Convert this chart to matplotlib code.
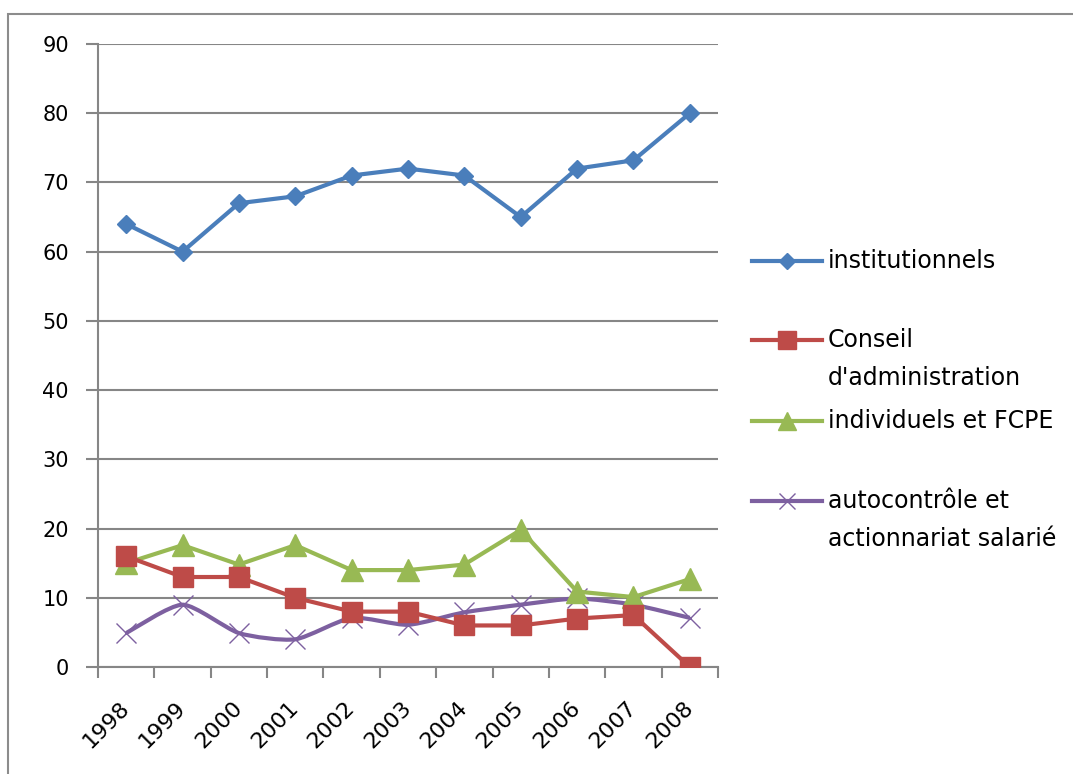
import matplotlib
matplotlib.use("Agg")
import matplotlib.pyplot as plt
from matplotlib.path import Path
from matplotlib.patches import PathPatch, Rectangle
from matplotlib.lines import Line2D
import numpy as np

plt.rcParams['font.family'] = ['DejaVu Sans']

years = ["1998", "1999", "2000", "2001", "2002", "2003", "2004", "2005", "2006", "2007", "2008"]
institutionnels = [64, 60, 67, 68, 71, 72, 71, 65, 72, 73.2, 80]
conseil = [16, 13, 13, 10, 8, 8, 6, 6, 7, 7.5, 0]
individuels = [15, 17.6, 14.8, 17.6, 14, 14, 14.8, 19.8, 10.9, 10.1, 12.7]
autocontrole = [4.9, 9, 4.9, 4, 7.1, 6.1, 7.9, 9, 9.9, 9, 7.1]
labels = ["institutionnels", "Conseil\nd'administration", "individuels et FCPE",
          "autocontrôle et\nactionnariat salarié"]
yticks = [0, 10, 20, 30, 40, 50, 60, 70, 80, 90]

blue = "#4a7ebb"
red = "#be4b48"
green = "#98b954"
purple = "#7d60a0"
grid = "#868686"

W, H = 1073, 774
fig = plt.figure(figsize=(W / 100, H / 100), dpi=100)
fig.patches.append(Rectangle((8 / W, -0.05), 1.1, 1 - 14 / H + 0.05, transform=fig.transFigure,
                             fill=False, edgecolor="#8c8c8c", linewidth=1.5))
ax = fig.add_axes([98 / W, 1 - 667 / H, (718 - 98) / W, (667 - 44) / H])

x = np.arange(len(years))
ax.plot(x, institutionnels, color=blue, lw=3, marker="D", ms=9, mfc=blue, mec=blue, zorder=5)
ax.plot(x, conseil, color=red, lw=3, marker="s", ms=15, mfc=red, mec=red, zorder=4)
ax.plot(x, individuels, color=green, lw=3, marker="^", ms=16, mfc=green, mec=green, zorder=3)

# smoothed line (Bezier through the data points)
pts = np.column_stack([x, autocontrole]).astype(float)
verts = [tuple(pts[0])]
codes = [Path.MOVETO]
n = len(pts)
for i in range(n - 1):
    p0 = pts[max(i - 1, 0)]
    p1 = pts[i]
    p2 = pts[i + 1]
    p3 = pts[min(i + 2, n - 1)]
    c1 = p1 + (p2 - p0) / 9
    c2 = p2 - (p3 - p1) / 9
    verts += [tuple(c1), tuple(c2), tuple(p2)]
    codes += [Path.CURVE4] * 3
ax.add_patch(PathPatch(Path(verts, codes), fill=False, edgecolor=purple, lw=3, zorder=2))
ax.plot(x, autocontrole, linestyle="none", marker="x", ms=14, mew=1, color=purple, zorder=2)

ax.set_xlim(-0.5, len(years) - 0.5)
ax.set_ylim(0, 90)
ax.set_yticks(yticks)
ax.set_yticklabels([str(v) for v in yticks], fontsize=15)
ax.set_xticks(x)
ax.set_xticklabels(years, rotation=45, ha="right", va="center", rotation_mode="anchor", fontsize=16)
ax.set_xticks(np.arange(-0.5, len(years)), minor=True)
ax.tick_params(axis="x", which="major", length=0, pad=27)
ax.tick_params(axis="x", which="minor", length=8, width=1.5, color=grid, direction="out")
ax.tick_params(axis="y", length=9, width=1.5, color=grid, direction="out", pad=12)
ax.grid(axis="y", color=grid, lw=1.5)
ax.set_axisbelow(True)
for s in ["top", "right"]:
    ax.spines[s].set_visible(False)
for s in ["left", "bottom"]:
    ax.spines[s].set_color(grid)
    ax.spines[s].set_linewidth(1.5)

# legend
leg_y = [261, 340, 421, 501]
styles = [
    dict(color=blue, lw=3, marker="D", ms=8),
    dict(color=red, lw=3, marker="s", ms=13),
    dict(color=green, lw=3, marker="^", ms=13),
    dict(color=purple, lw=3, marker="x", ms=12, mew=1),
]
for yy, lab, st in zip(leg_y, labels, styles):
    yf = 1 - yy / H
    fig.add_artist(Line2D([752 / W, 822 / W], [yf, yf], transform=fig.transFigure,
                          color=st["color"], lw=st["lw"]))
    fig.add_artist(Line2D([787 / W], [yf], transform=fig.transFigure, linestyle="none",
                          marker=st["marker"], ms=st["ms"], mew=st.get("mew", 1), color=st["color"]))
    fig.text(828 / W, 1 - (yy - 12) / H, lab, fontsize=17, va="top", ha="left", linespacing=1.75,
             transform=fig.transFigure)

fig.savefig("out.png", dpi=100)
